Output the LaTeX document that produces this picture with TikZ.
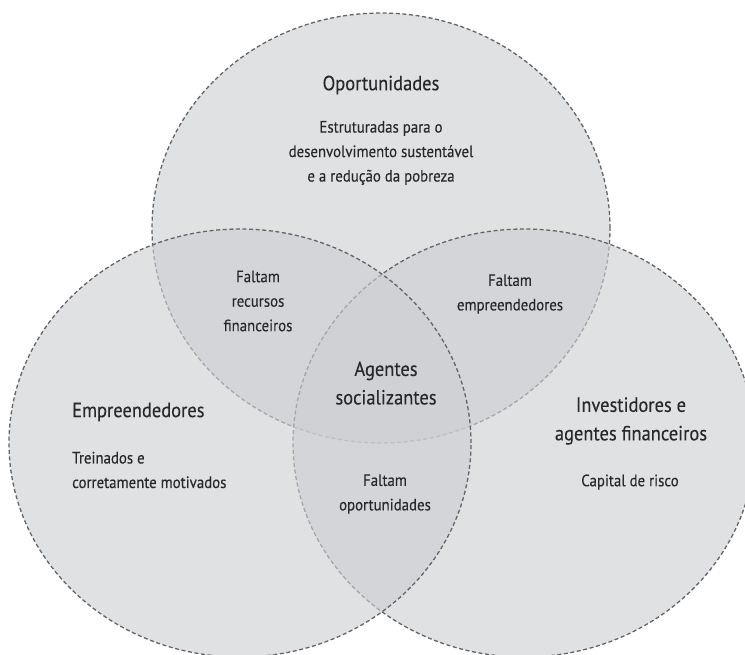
\documentclass[tikz,border=0pt]{standalone}
\usepackage{fontspec}
\setmainfont[FakeStretch=0.9, FakeBold=0.25]{PT Sans}
\usetikzlibrary{shapes.geometric}
\definecolor{zonefill}{RGB}{206,207,210}
\definecolor{rimgray}{RGB}{100,100,102}
\definecolor{inkgray}{RGB}{40,40,42}

\begin{document}
\begin{tikzpicture}[
    x=1pt, y=-1pt,
    zone/.style={ellipse, draw=rimgray, line width=1.3pt, dash pattern=on 4pt off 2.6pt,
                 fill=zonefill, fill opacity=0.62, draw opacity=1, inner sep=0pt},
    head/.style={text=inkgray, align=center, inner sep=0pt, font=\fontsize{20.5}{28.5}\selectfont},
    sub/.style={text=inkgray, align=center, inner sep=0pt, font=\fontsize{16.5}{24.5}\selectfont}
]
\useasboundingbox (0,0) rectangle (745,655);
\fill[white] (0,0) rectangle (745,655);
\clip (0,0) rectangle (745,655);

\node[zone, minimum width=458pt, minimum height=430pt] (opport) at (381,228) {};
\node[zone, minimum width=462pt, minimum height=428pt] (invest) at (524,443) {};
\node[zone, minimum width=462pt, minimum height=428pt] (entrep) at (240,443) {};

\node[head] (opptitle) at (381,85) {Oportunidades};
\node[sub] (opptext) at (381,153) {Estruturadas para o\\desenvolvimento sustentável\\e a redução da pobreza};

\node[sub] (norecursos) at (258,301) {Faltam\\recursos\\financeiros};
\node[sub] (noempreend) at (510,294) {Faltam\\empreendedores};
\node[head] (agentes) at (386,383) {Agentes\\socializantes};
\node[sub] (nooport) at (385,494) {Faltam\\oportunidades};

\node[head, anchor=west] (enttitle) at (72,412) {Empreendedores};
\node[sub, anchor=west, align=left] (enttext) at (72,470) {Treinados e\\corretamente motivados};

\node[head] (invtitle) at (631,421) {Investidores e\\agentes financeiros};
\node[sub] (invtext) at (630,482) {Capital de risco};

\end{tikzpicture}
\end{document}
